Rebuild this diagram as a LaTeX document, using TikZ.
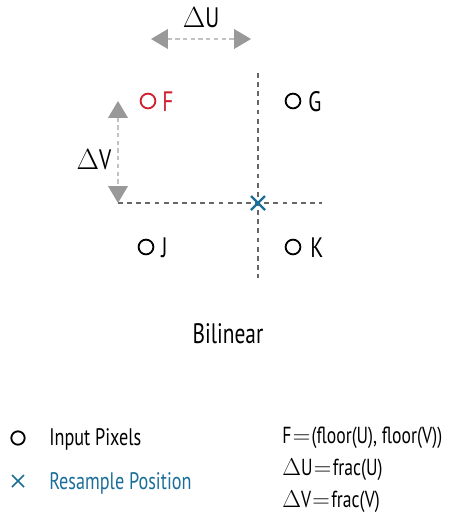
\documentclass[tikz,border=0pt]{standalone}
\usepackage{fontspec}
\setmainfont[FakeStretch=0.76]{PT Sans}
\usetikzlibrary{arrows.meta}
\definecolor{pixred}{HTML}{D0202F}
\definecolor{resblue}{HTML}{1A6E99}
\definecolor{guide}{HTML}{666666}
\definecolor{tipgray}{HTML}{999999}
\newcommand{\eqs}{\hspace{0.06em}$=$\hspace{0.06em}}
\begin{document}
\begin{tikzpicture}[x=0.025cm, y=-0.025cm, font=\fontsize{20}{24}\selectfont,
  pix/.style={draw, circle, line width=1.3pt, inner sep=0pt, minimum size=10.5pt},
  lbl/.style={anchor=west, inner sep=0pt},
  small/.style={font=\fontsize{17}{20}\selectfont},
  formula/.style={font=\fontsize{16.5}{20}\selectfont},
  guideline/.style={guide, dashed, line width=0.9pt, dash pattern=on 3.5pt off 3pt},
  delta/.style={{Triangle[width=14pt, length=12pt, color=tipgray]}-{Triangle[width=14pt, length=12pt, color=tipgray]},
    line width=0.9pt, dash pattern=on 3pt off 2.5pt, draw=tipgray!60},
  xmark/.style={resblue, line width=1.7pt}]
  \useasboundingbox (0,0) rectangle (448,520);
  % grid lines through the resample position
  \coordinate (hl) at (118,203);
  \coordinate (hr) at (322,203);
  \coordinate (vt) at (258,73);
  \coordinate (vb) at (258,278);
  \draw[guideline] (hl) -- (hr);
  \draw[guideline] (vt) -- (vb);
  % offsets
  \coordinate (ul) at (151,39);
  \coordinate (ur) at (251,39);
  \coordinate (vtop) at (118,101);
  \draw[delta] (ul) -- (ur);
  \draw[delta] (vtop) -- (hl);
  \node (du) at (201,18) {$\Delta$U};
  \node (dv) at (94,160) {$\Delta$V};
  % input pixels
  \node[pix, pixred] (pf) at (148,101) {};
  \node[lbl, pixred] (lf) at (162,102) {F};
  \node[pix] (pg) at (293,101) {};
  \node[lbl] (lg) at (308,102) {G};
  \node[pix] (pj) at (146,247) {};
  \node[lbl] (lj) at (161,248) {J};
  \node[pix] (pk) at (293,247) {};
  \node[lbl] (lk) at (310,248) {K};
  % resample position
  \coordinate (rs) at (258,203);
  \draw[xmark] ([shift={(-7,-7)}]rs) -- ([shift={(7,7)}]rs)
    ([shift={(-7,7)}]rs) -- ([shift={(7,-7)}]rs);
  \node (title) at (228,334) {Bilinear};
  % legend
  \node[pix, minimum size=9.5pt] (legpix) at (18,438) {};
  \node[lbl, small] (legpixt) at (49,439) {Input Pixels};
  \coordinate (legx) at (18,481);
  \draw[resblue, line width=1.1pt] ([shift={(-6,-6)}]legx) -- ([shift={(6,6)}]legx)
    ([shift={(-6,6)}]legx) -- ([shift={(6,-6)}]legx);
  \node[lbl, resblue, small] (legxt) at (49,483) {Resample Position};
  \node[lbl, formula] (f1) at (282,438) {F\eqs(floor(U), floor(V))};
  \node[lbl, formula] (f2) at (282,470) {$\Delta$U\eqs frac(U)};
  \node[lbl, formula] (f3) at (282,502) {$\Delta$V\eqs frac(V)};
\end{tikzpicture}
\end{document}
